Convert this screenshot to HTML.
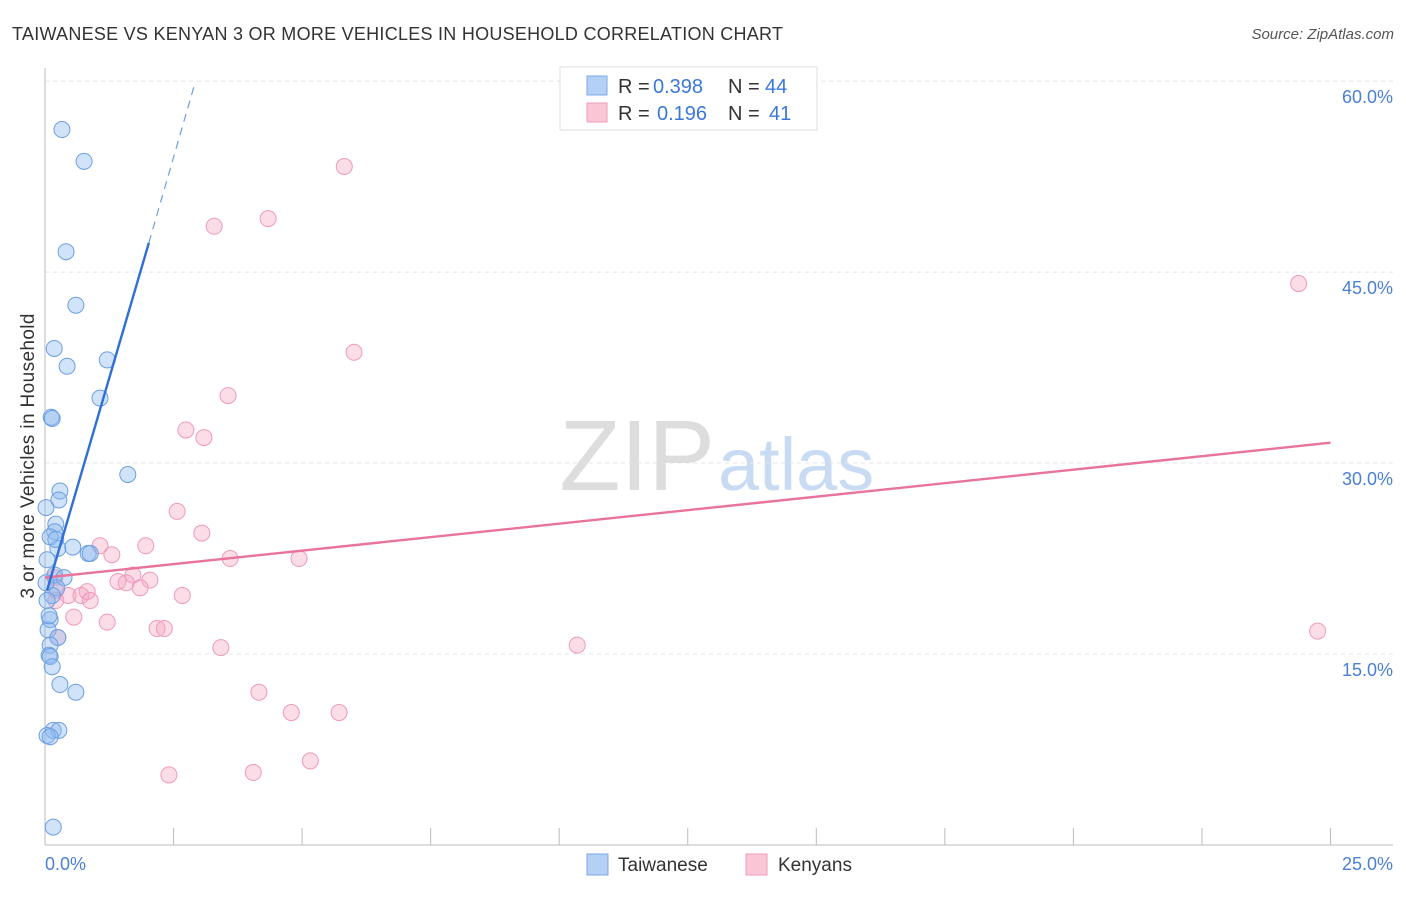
<!DOCTYPE html>
<html><head><meta charset="utf-8"><style>
body{margin:0;background:#fff;font-family:"Liberation Sans",sans-serif}
svg text{font-family:"Liberation Sans",sans-serif}
</style></head><body>
<svg id="chart" width="1406" height="892">
<text x="12" y="40" font-size="18" textLength="771" fill="#333">TAIWANESE VS KENYAN 3 OR MORE VEHICLES IN HOUSEHOLD CORRELATION CHART</text>
<text x="1394" y="39" font-size="15" fill="#555" font-style="italic" text-anchor="end">Source: ZipAtlas.com</text>
<text x="715" y="490" font-size="100" fill="#ddd" font-family="Liberation Serif" text-anchor="end">ZIP</text>
<text x="718" y="490" font-size="74" fill="#c9dbf2">atlas</text>
<g id="grid"></g><g id="axes"></g><g id="pts"></g><g id="lines"></g>
<text transform="translate(34,456) rotate(-90)" font-size="19" textLength="285" fill="#333" text-anchor="middle">3 or more Vehicles in Household</text>
<g>
<rect x="560" y="67" width="257" height="63" fill="#fff" stroke="#ddd"/>
<rect x="587" y="76" width="20" height="19" fill="#b4d0f4" stroke="#7aaae6"/>
<rect x="587" y="103" width="20" height="19" fill="#f9c6d6" stroke="#ef9ab8"/>
<text x="618" y="93" font-size="20" fill="#333">R =</text>
<text x="653" y="93" font-size="20" fill="#3a78d8">0.398</text>
<text x="728" y="93" font-size="20" fill="#333">N =</text>
<text x="765" y="93" font-size="20" fill="#3a78d8">44</text>
<text x="618" y="120" font-size="20" fill="#333">R =</text>
<text x="657" y="120" font-size="20" fill="#3a78d8">0.196</text>
<text x="728" y="120" font-size="20" fill="#333">N =</text>
<text x="769" y="120" font-size="20" fill="#3a78d8">41</text>
</g>
<g>
<rect x="587" y="854" width="21" height="21" fill="#b4d0f4" stroke="#7aaae6"/>
<text x="618" y="871" font-size="19" fill="#333">Taiwanese</text>
<rect x="746" y="854" width="21" height="21" fill="#f9c6d6" stroke="#ef9ab8"/>
<text x="778" y="871" font-size="19" fill="#333">Kenyans</text>
</g>
</svg>
<script>
const xTicks=[0,2.5,5,7.5,10,12.5,15,17.5,20,22.5,25];
const yTicks=[15,30,45,60];
const yTickLabels=["15.0%","30.0%","45.0%","60.0%"];
const taiwaneseX=[.33,.76,.41,.60,.18,1.21,.43,1.07,.12,.14,1.61,.29,.27,.02,.21,.19,.10,.25,.54,.84,.88,.19,.37,.23,.14,.04,.10,.06,.25,.10,.08,.10,.14,.29,.60,.16,.27,.04,.10,.16,.02,.21,.04,.08];
const taiwaneseY=[56.2,53.7,46.6,42.4,39.0,38.1,37.6,35.1,33.6,33.5,29.1,27.8,27.1,26.5,25.2,24.6,24.2,23.3,23.4,22.9,22.9,21.2,21.0,20.2,19.6,19.2,17.7,16.9,16.3,15.7,14.9,14.8,14.0,12.6,12.0,9.0,9.0,8.6,8.5,1.4,20.6,24.0,22.4,18.0];
const kenyanX=[5.82,4.34,3.29,24.38,6.01,3.56,2.74,3.09,2.57,3.05,1.96,1.07,1.30,3.60,4.94,.19,1.71,1.42,2.04,1.58,1.85,.21,.82,.45,.70,.88,2.67,.21,.56,1.21,2.18,2.32,.25,3.42,10.35,24.75,4.16,4.79,5.72,2.41,4.05,5.16];
const kenyanY=[53.3,49.2,48.6,44.1,38.7,35.3,32.6,32.0,26.2,24.5,23.5,23.5,22.8,22.5,22.5,21.0,21.2,20.7,20.8,20.6,20.2,20.0,19.9,19.6,19.6,19.2,19.6,19.2,17.9,17.5,17.0,17.0,16.3,15.5,15.7,16.8,12.0,10.4,10.4,5.5,5.7,6.6];
const blueTrend=[[0.04,20.0],[2.02,47.3]];
const blueTrendExt=[[2.02,47.3],[2.92,59.9]];
const pinkTrend=[[0,21.0],[25,31.6]];
const X=v=>45+v*51.42, Y=v=>654-(v-15)*12.73;
const NS="http://www.w3.org/2000/svg";
function mk(p,t,a){const e=document.createElementNS(NS,t);for(const k in a)e.setAttribute(k,a[k]);p.appendChild(e);return e;}
const grid=document.getElementById('grid'),axes=document.getElementById('axes'),pts=document.getElementById('pts'),lines=document.getElementById('lines');
yTicks.forEach((t,i)=>{
 const l=mk(grid,'line',{x1:45,x2:1393,y1:Y(t),y2:Y(t),stroke:'#e4e4e4','stroke-dasharray':'4,4'});
 
 
 const tx=mk(axes,'text',{x:1393,y:Y(t)+22,'font-size':18,fill:'#4a7fd6','text-anchor':'end'});tx.textContent=yTickLabels[i];
 
 
});
const ax=mk(axes,'line',{x1:45,x2:1393,y1:845,y2:845,stroke:'#bbb'});


const ay=mk(axes,'line',{x1:45,x2:45,y1:68,y2:845,stroke:'#bbb'});


xTicks.forEach(t=>{const l=mk(axes,'line',{x1:X(t),x2:X(t),y1:828,y2:845,stroke:'#bbb'});
 
 });
[[0,"0.0%","start",45],[25,"25.0%","end",1393]].forEach(([v,s,a,x])=>{const t=mk(axes,'text',{x:x,y:870,'font-size':18,fill:'#4a7fd6','text-anchor':a});t.textContent=s;
 
 });
kenyanX.forEach((v,i)=>{const c=mk(pts,'circle',{cx:X(v),cy:Y(kenyanY[i]),r:8,fill:'rgba(245,165,195,0.38)',stroke:'#ef9ab8','stroke-width':1});
 
 });
taiwaneseX.forEach((v,i)=>{const c=mk(pts,'circle',{cx:X(v),cy:Y(taiwaneseY[i]),r:8,fill:'rgba(140,185,240,0.4)',stroke:'#6c9fe0','stroke-width':1});
 
 });
function ln(d,st,dash,nm){const l=mk(lines,'line',{x1:X(d[0][0]),y1:Y(d[0][1]),x2:X(d[1][0]),y2:Y(d[1][1]),stroke:st,'stroke-width':dash?1.2:2.4});if(dash)l.setAttribute('stroke-dasharray','8,6');
 
 }
ln(pinkTrend,'#e8739c',false,'kenyan-trend-line');
ln(blueTrend,'#2f6fd6',false,'taiwanese-trend-line');
ln(blueTrendExt,'#6c9fe0',true,'taiwanese-trend-extension');
</script>
</body></html>
